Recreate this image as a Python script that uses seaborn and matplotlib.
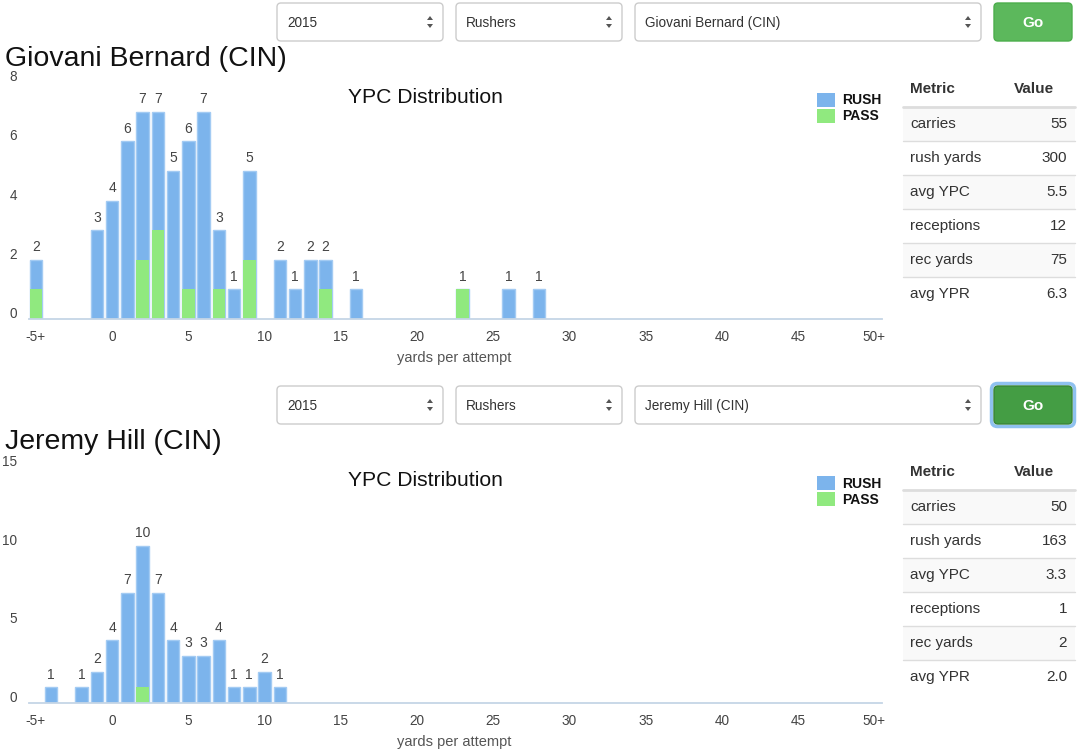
import matplotlib
matplotlib.use("Agg")
import matplotlib.pyplot as plt
from matplotlib.patches import FancyBboxPatch, Rectangle, Polygon
from matplotlib.transforms import ScaledTranslation
import seaborn as sns
import pandas as pd

# ---------------- data ----------------
bernard_yards = [-5, -1, 0, 1, 2, 3, 4, 5, 6, 7, 8, 9, 11, 12, 13, 14, 16, 23, 26, 28]
bernard_total = [2, 3, 4, 6, 7, 7, 5, 6, 7, 3, 1, 5, 2, 1, 2, 2, 1, 1, 1, 1]
bernard_pass = [1, 0, 0, 0, 2, 3, 0, 1, 0, 1, 0, 2, 0, 0, 0, 1, 0, 1, 0, 0]

hill_yards = [-4, -2, -1, 0, 1, 2, 3, 4, 5, 6, 7, 8, 9, 10, 11]
hill_total = [1, 1, 2, 4, 7, 10, 7, 4, 3, 3, 4, 1, 1, 2, 1]
hill_pass = [0, 0, 0, 0, 0, 1, 0, 0, 0, 0, 0, 0, 0, 0, 0]

x_tick_values = [-5, 0, 5, 10, 15, 20, 25, 30, 35, 40, 45, 50]
x_tick_labels = ["-5+", "0", "5", "10", "15", "20", "25", "30", "35", "40", "45", "50+"]
bernard_y_ticks = [0, 2, 4, 6, 8]
hill_y_ticks = [0, 5, 10, 15]

metric_names = ["carries", "rush yards", "avg YPC", "receptions", "rec yards", "avg YPR"]
bernard_values = ["55", "300", "5.5", "12", "75", "6.3"]
hill_values = ["50", "163", "3.3", "1", "2", "2.0"]

season = "2015"
position = "Rushers"
bernard_name = "Giovani Bernard (CIN)"
hill_name = "Jeremy Hill (CIN)"
legend_labels = ["RUSH", "PASS"]

# ---------------- style ----------------
BLUE = "#7cb4ec"
BLUE_EDGE = "#a3cbf3"
GREEN = "#90e97f"
TXT = "#333333"
AXC = "#c5d5e6"

sns.set_style("white")
plt.rcParams["font.family"] = ["Liberation Sans", "DejaVu Sans"]

W, H = 1080, 756
fig = plt.figure(figsize=(W / 100, H / 100), dpi=100)
bg = fig.add_axes([0, 0, 1, 1])
bg.set_xlim(0, W)
bg.set_ylim(H, 0)
bg.axis("off")


def rbox(x, y, w, h, fc, ec, lw=1.0, r=4, z=1):
    bg.add_patch(FancyBboxPatch((x, y), w, h, boxstyle=f"round,pad=0,rounding_size={r}",
                                fc=fc, ec=ec, lw=lw, zorder=z))


def updown(x, yc):
    bg.add_patch(Polygon([[x - 3, yc - 2], [x + 3, yc - 2], [x, yc - 6]], closed=True,
                         fc="#555555", ec="none", zorder=3))
    bg.add_patch(Polygon([[x - 3, yc + 2], [x + 3, yc + 2], [x, yc + 6]], closed=True,
                         fc="#555555", ec="none", zorder=3))


def controls(dy, player, focused):
    top, h = 3 + dy, 38
    yc = top + h / 2
    boxes = [(277, 166, season), (456, 166, position), (635, 346, player)]
    for x, w, label in boxes:
        rbox(x, top, w, h, "white", "#cccccc", lw=1.0)
        bg.text(x + 10, yc + 1, label, fontsize=9.8, color=TXT, va="center", ha="left")
        updown(x + w - 13, yc)
    if focused:
        rbox(991.5, top - 2.5, 83, h + 5, "none", "#8fc1ef", lw=2.5, r=6)
        rbox(994, top, 78, h, "#449d44", "#398439", lw=1.0)
    else:
        rbox(994, top, 78, h, "#5cb85c", "#4cae4c", lw=1.0)
    bg.text(1033, yc + 1, "Go", fontsize=11, color="white", fontweight="bold",
            ha="center", va="center")


def table(dy, values):
    x0, x1 = 903, 1075
    bg.text(910, 89 + dy, "Metric", fontsize=11, fontweight="bold", color=TXT, va="center")
    bg.text(1014, 89 + dy, "Value", fontsize=11, fontweight="bold", color=TXT, va="center")
    for i, (m, v) in enumerate(zip(metric_names, values)):
        top = 107 + dy + 34 * i
        if i % 2 == 0:
            bg.add_patch(Rectangle((x0, top), x1 - x0, 34, fc="#f9f9f9", ec="none", zorder=1))
        if i > 0:
            bg.plot([x0, x1], [top, top], color="#dddddd", lw=1, zorder=2)
        bg.text(910, top + 17, m, fontsize=11, color=TXT, va="center", zorder=3)
        bg.text(1067, top + 17, v, fontsize=11, color=TXT, va="center", ha="right", zorder=3)
    bg.plot([x0, x1], [107 + dy, 107 + dy], color="#dddddd", lw=2, zorder=2)


def legend(dy):
    for i, (lab, col) in enumerate(zip(legend_labels, [BLUE, GREEN])):
        y = 93 + dy + 16 * i
        bg.add_patch(Rectangle((817, y), 18, 14, fc=col, ec="none", zorder=2))
        bg.text(842, y + 7.5, lab, fontsize=10, fontweight="bold", color="#111111",
                va="center", ha="left")


def chart(top_px, bottom_px, yards, total, pas, yticks, name, dy):
    left_px, right_px = 29, 882
    ax = fig.add_axes([left_px / W, 1 - bottom_px / H, (right_px - left_px) / W,
                       (bottom_px - top_px) / H])
    ax.set_facecolor("none")
    df = pd.DataFrame({"yards": yards, "total": total, "pass": pas})
    sns.barplot(data=df, x="yards", y="total", native_scale=True, color=BLUE,
                saturation=1, width=0.82, edgecolor=BLUE_EDGE, linewidth=1, ax=ax,
                errorbar=None)
    sns.barplot(data=df, x="yards", y="pass", native_scale=True, color=GREEN,
                saturation=1, width=0.82, linewidth=0, ax=ax, errorbar=None)
    ax.bar_label(ax.containers[0], padding=4, fontsize=10, color="#444444")
    ax.set_xlim(-5.45, 50.5)
    ax.set_ylim(0, yticks[-1])
    ax.set_xticks(x_tick_values)
    ax.set_xticklabels(x_tick_labels)
    ax.set_xticks(list(range(-5, 51)), minor=True)
    ax.tick_params(axis="x", which="major", length=5, width=1.2, color=AXC,
                   labelsize=9.8, labelcolor="#444444", pad=3.2)
    ax.tick_params(axis="x", which="minor", length=3, width=0.9, color="#8a8a8a")
    ax.set_yticks(yticks)
    ax.tick_params(axis="y", length=0, labelleft=False)
    off = ScaledTranslation(-0.12, 0.05, fig.dpi_scale_trans)
    for t in yticks:
        ax.text(0, t, str(t), transform=ax.get_yaxis_transform() + off, ha="right",
                va="center", fontsize=9.8, color="#444444")
    for s in ["left", "right", "top"]:
        ax.spines[s].set_visible(False)
    ax.spines["bottom"].set_color(AXC)
    ax.spines["bottom"].set_linewidth(1.3)
    ax.set_ylabel("")
    ax.set_xlabel("yards per attempt", fontsize=10.5, color="#555555")
    ax.xaxis.set_label_coords(0.499, -(32 / (bottom_px - top_px)))
    ax.xaxis.label.set_va("top")
    ax.grid(False)
    # titles
    bg.text(5, 66 + dy, name, fontsize=20.5, color="#111111", va="baseline", ha="left")
    bg.text(425.5, 103 + dy, "YPC Distribution", fontsize=15.2, color="#111111",
            va="baseline", ha="center")
    return ax


controls(0, bernard_name, False)
controls(383, hill_name, True)
chart(82, 319, bernard_yards, bernard_total, bernard_pass, bernard_y_ticks, bernard_name, 0)
chart(467, 703, hill_yards, hill_total, hill_pass, hill_y_ticks, hill_name, 383)
legend(0)
legend(383)
table(0, bernard_values)
table(383, hill_values)

fig.savefig("out.png", dpi=100)
